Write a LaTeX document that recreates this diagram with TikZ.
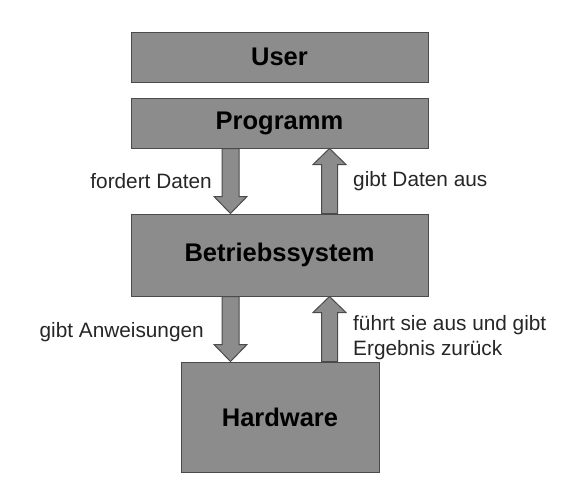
\documentclass[tikz,border=0pt]{standalone}
\usepackage{fontspec}
\setmainfont{Liberation Sans}
\usetikzlibrary{calc}
\definecolor{boxfill}{RGB}{140,140,140}
\definecolor{boxline}{RGB}{75,75,75}
\tikzset{
  box/.style={draw=boxline, fill=boxfill, line width=1pt, inner sep=0pt,
    font=\fontsize{25.5}{30}\selectfont\bfseries, text=black},
  blockarrow/.style={draw=boxline, fill=boxfill, line width=1pt, line join=miter},
  lbl/.style={font=\fontsize{20.8}{25}\selectfont, text=black!85, inner sep=0pt}
}
\newcommand\arrowdown[3]{% x center, start anchor (top), end anchor (tip)
  \draw[blockarrow] let \p1=(#2), \p2=(#3) in
    ({#1-8.5pt},\y1) -- ({#1+8.5pt},\y1) -- ({#1+8.5pt},{\y2+17pt}) --
    ({#1+16.5pt},{\y2+17pt}) -- (#1,\y2) -- ({#1-16.5pt},{\y2+17pt}) --
    ({#1-8.5pt},{\y2+17pt}) -- cycle;}
\newcommand\arrowup[3]{% x center, tip anchor (top), base anchor (bottom)
  \draw[blockarrow] let \p1=(#2), \p2=(#3) in
    ({#1-8pt},\y2) -- ({#1+8pt},\y2) -- ({#1+8pt},{\y1-16pt}) --
    ({#1+16.5pt},{\y1-16pt}) -- (#1,\y1) -- ({#1-16.5pt},{\y1-16pt}) --
    ({#1-8pt},{\y1-16pt}) -- cycle;}
\begin{document}
\begin{tikzpicture}[x=1pt,y=-1pt]
  \useasboundingbox (0,0) rectangle (582,490);
  \node[box, minimum width=297pt, minimum height=50pt] (user) at (279.5,57) {User};
  \node[box, minimum width=297pt, minimum height=50pt] (prog) at (279.5,123) {Programm};
  \node[box, minimum width=297pt, minimum height=82pt] (bs) at (279.5,255) {Betriebssystem};
  \node[box, minimum width=198pt, minimum height=110pt] (hw) at (280,417) {Hardware};
  \arrowdown{230.5pt}{prog.south}{bs.north}
  \arrowup{329.5pt}{prog.south}{bs.north}
  \arrowdown{230.5pt}{bs.south}{hw.north}
  \arrowup{329.5pt}{bs.south}{hw.north}
  \node[lbl, anchor=east] (l1) at (212,181) {fordert Daten};
  \node[lbl, anchor=west] (l2) at (353,181) {gibt Daten aus};
  \node[lbl, anchor=east] (l3) at (204,332) {gibt Anweisungen};
  \node[lbl, anchor=west, align=left] (l4) at (353,337.5) {führt sie aus und gibt\\Ergebnis zurück};
\end{tikzpicture}
\end{document}
